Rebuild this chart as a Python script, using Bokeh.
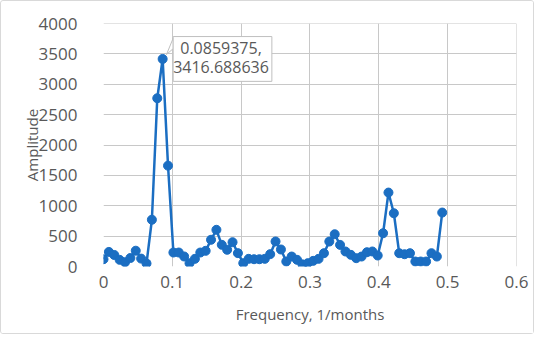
from bokeh.plotting import figure
from bokeh.models import Label, SingleIntervalTicker, NumeralTickFormatter, Range1d
from bokeh.embed import file_html
from bokeh.resources import INLINE

# Frequency grid (1/months) and amplitude values
frequency = [0, 0.0078125, 0.015625, 0.0234375, 0.03125, 0.0390625, 0.046875, 0.0546875,
             0.0625, 0.0703125, 0.078125, 0.0859375, 0.09375, 0.1015625, 0.109375, 0.1171875,
             0.125, 0.1328125, 0.140625, 0.1484375, 0.15625, 0.1640625, 0.171875, 0.1796875,
             0.1875, 0.1953125, 0.203125, 0.2109375, 0.21875, 0.2265625, 0.234375, 0.2421875,
             0.25, 0.2578125, 0.265625, 0.2734375, 0.28125, 0.2890625, 0.296875, 0.3046875,
             0.3125, 0.3203125, 0.328125, 0.3359375, 0.34375, 0.3515625, 0.359375, 0.3671875,
             0.375, 0.3828125, 0.390625, 0.3984375, 0.40625, 0.4140625, 0.421875, 0.4296875,
             0.4375, 0.4453125, 0.453125, 0.4609375, 0.46875, 0.4765625, 0.484375, 0.4921875]
amplitude = [120, 240, 190, 110, 70, 140, 260, 130,
             50, 770, 2770, 3416.688636, 1660, 230, 230, 165,
             55, 126, 230, 258, 440, 604, 357, 275,
             400, 220, 55, 126, 120, 120, 126, 203,
             412, 280, 82, 164, 110, 35, 55, 93,
             126, 219, 411, 531, 356, 247, 192, 137,
             164, 235, 247, 181, 548, 1217, 877, 219,
             202, 219, 82, 82, 82, 219, 164, 888]

peak_x = 0.0859375
peak_y = 3416.688636
callout_text = "0.0859375,\n3416.688636"

x_title = "Frequency, 1/months"
y_title = "Amplitude"

BLUE = "#1b6ec2"
GRID = "#c8c8c8"
TXT = "#595959"
FONT = "Open Sans"

p = figure(width=534, height=334, output_backend="svg", toolbar_location=None,
           x_range=Range1d(0, 0.6001), y_range=Range1d(0, 4000.5),
           min_border_left=102, min_border_right=19, min_border_top=22, min_border_bottom=69)
p.outline_line_color = None
p.styles = {"border": "1px solid #d9d9d9", "border-radius": "3px"}

xt = SingleIntervalTicker(interval=0.1)
yt = SingleIntervalTicker(interval=500)
p.xaxis.ticker = xt
p.yaxis.ticker = yt
p.xgrid.ticker = xt
p.ygrid.ticker = yt
p.xaxis.formatter = NumeralTickFormatter(format="0.[0]")
p.yaxis.formatter = NumeralTickFormatter(format="0")

for ax in (p.xaxis, p.yaxis):
    ax.axis_line_color = None
    ax.major_tick_line_color = None
    ax.minor_tick_line_color = None
    ax.major_tick_out = 0
    ax.major_tick_in = 0
    ax.major_label_text_font = FONT
    ax.major_label_text_font_size = "17px"
    ax.major_label_text_color = TXT
    ax.axis_label_text_font = FONT
    ax.axis_label_text_font_size = "15px"
    ax.axis_label_text_color = TXT
    ax.axis_label_text_font_style = "normal"

p.xaxis.axis_label = x_title
p.yaxis.axis_label = y_title
p.xaxis.major_label_standoff = 5
p.xaxis.axis_label_standoff = 13
p.yaxis.major_label_standoff = 22
p.yaxis.axis_label_standoff = -6

for g in (p.xgrid, p.ygrid):
    g.grid_line_color = GRID
    g.grid_line_width = 1
    g.grid_line_alpha = 1.0

p.line(frequency, amplitude, line_color=BLUE, line_width=2.5)
p.scatter(frequency, amplitude, size=9, fill_color=BLUE, line_color=BLUE)

# callout tail
p.patch([peak_x + 0.0154, peak_x + 0.0056, peak_x + 0.0154],
        [peak_y + 345, peak_y + 73, peak_y + 171],
        fill_color="white", line_color="#bfbfbf", line_width=1)

label = Label(x=peak_x + 0.087, y=peak_y, text=callout_text,
              text_align="center", text_baseline="middle",
              text_font=FONT, text_font_size="16px", text_color=TXT,
              background_fill_color="white", border_line_color="#bfbfbf",
              padding=(0, 3, 0, 3), text_line_height=0.9)
p.add_layout(label)

open("out.html", "w").write(file_html(p, INLINE))
